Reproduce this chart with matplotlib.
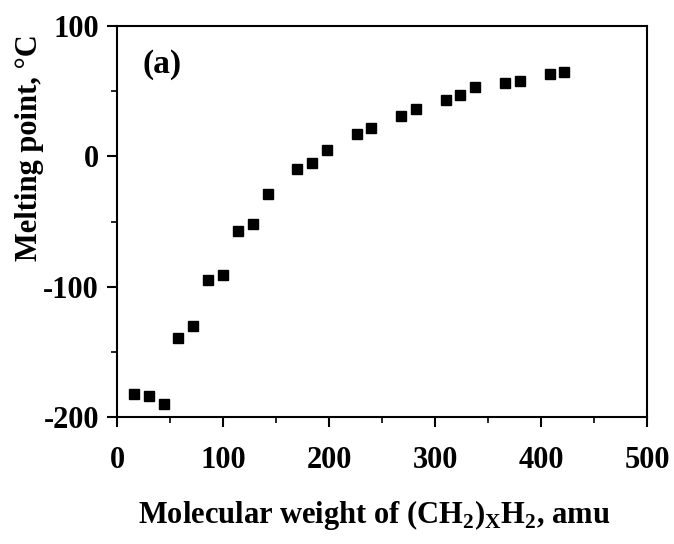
import numpy as np
import matplotlib
matplotlib.use('Agg')
import matplotlib.pyplot as plt
from matplotlib.ticker import MultipleLocator

# n-alkanes: molecular weight (amu) vs melting point (C)
mol_weight = [16, 30, 44, 58, 72, 86, 100, 114, 128, 142, 170, 184, 198,
              226, 240, 268, 282, 310, 324, 338, 366, 380, 408, 422]
melt_point = [-182, -184, -190, -139, -130, -95, -91, -57, -52, -29, -10, -5, 5,
              17, 22, 31, 36, 43, 47, 53, 56, 58, 63, 65]

plt.rcParams['font.family'] = ['Liberation Serif', 'DejaVu Serif']
plt.rcParams['font.weight'] = 'bold'
plt.rcParams['axes.unicode_minus'] = False
plt.rcParams['mathtext.fontset'] = 'custom'
plt.rcParams['mathtext.rm'] = 'Liberation Serif:bold'

fig = plt.figure(figsize=(6.74, 5.44), dpi=100)
ax = fig.add_axes([0.1736, 0.2335, 0.7864, 0.7185])

ax.plot(mol_weight, melt_point, 's', color='black', markersize=7.3)

ax.set_xlim(0, 500)
ax.set_ylim(-200, 100)
ax.xaxis.set_major_locator(MultipleLocator(100))
ax.xaxis.set_minor_locator(MultipleLocator(50))
ax.yaxis.set_major_locator(MultipleLocator(100))
ax.yaxis.set_minor_locator(MultipleLocator(50))

for s in ax.spines.values():
    s.set_linewidth(1.5)
ax.tick_params(which='major', direction='out', length=7, width=1.5, labelsize=22)
ax.tick_params(which='minor', direction='out', length=4, width=1.2)
ax.tick_params(axis='x', which='major', pad=14)
ax.tick_params(axis='y', which='major', pad=6)

ax.set_xlabel(r'Molecular weight of (CH$_\mathregular{2}$)$_\mathregular{X}$H$_\mathregular{2}$, amu',
              fontsize=22, fontweight='bold')
ax.set_ylabel('Melting point, °C', fontsize=22, fontweight='bold')
ax.xaxis.set_label_coords(0.485, -0.25)
ax.xaxis.label.set_va('center')
ax.yaxis.set_label_coords(-0.165, 0.69)
ax.yaxis.label.set_va('center')

ax.text(0.085, 0.903, '(a)', transform=ax.transAxes, fontsize=24,
        fontweight='bold', ha='center', va='center')

fig.savefig('out.png', dpi=100)
